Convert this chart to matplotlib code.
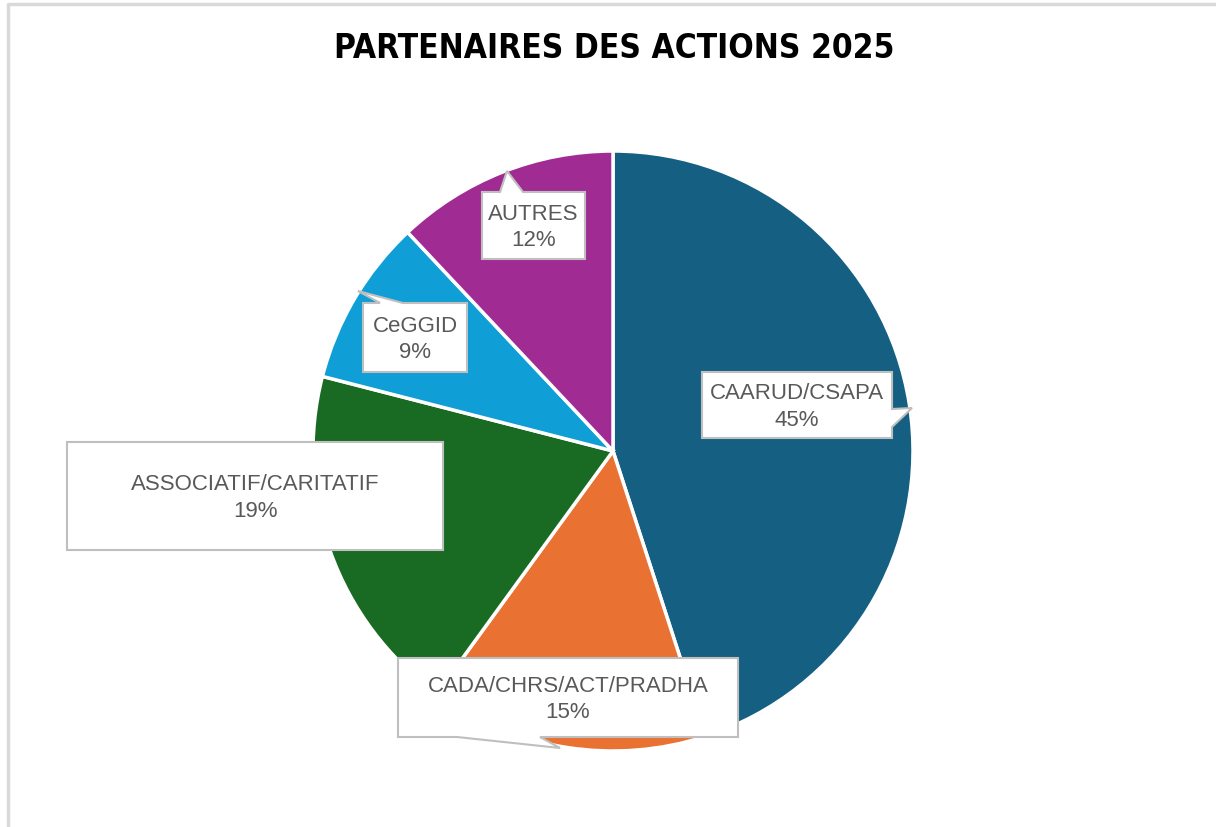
import matplotlib
matplotlib.use("Agg")
import matplotlib.pyplot as plt
from matplotlib import font_manager
from matplotlib.patches import Polygon

# data
labels = ["CAARUD/CSAPA", "CADA/CHRS/ACT/PRADHA", "ASSOCIATIF/CARITATIF", "CeGGID", "AUTRES"]
shares = [45, 15, 19, 9, 12]
colors = ["#156082", "#E97132", "#196B24", "#0F9ED5", "#A02B93"]
title = "PARTENAIRES DES ACTIONS 2025"

# callout layout in pixel coords: box (x0, y0, x1, y1), pointer edge, base span, tip
callouts = [
    ((702, 373, 892, 439), "right", (410, 428), (912, 409)),
    ((398, 659, 738, 738), "bottom", (540, 457), (560, 749)),
    ((67, 443, 443, 551), None, None, None),
    ((363, 304, 467, 373), "top", (380, 403), (358, 292)),
    ((482, 193, 585, 260), "top", (500, 523), (507, 172)),
]

# pick a condensed bold face for the title if one is installed
cond = [f for f in font_manager.fontManager.ttflist
        if ("Narrow" in f.name or "Condensed" in f.name or "condensed" in str(f.stretch))
        and f.weight in ("bold", 700)]
if cond:
    title_kw = dict(family=cond[0].name, fontstretch=cond[0].stretch, fontsize=24)
else:
    title_kw = dict(family="Liberation Sans", fontsize=23.5)
label_font = "Liberation Sans"

W, H = 1216, 828
fig = plt.figure(figsize=(W / 100, H / 100), dpi=100)
ax = fig.add_axes([0, 0, 1, 1])

# chart frame (top and left edges visible)
ax.plot([8, 8, W], [H, 5, 5], color="#D9D9D9", lw=2.5, solid_capstyle="butt")

# y axis is inverted below, so startangle/counterclock are mirrored
ax.pie(shares, colors=colors, center=(613, 452), radius=300, startangle=-90,
       counterclock=True, wedgeprops=dict(edgecolor="white", linewidth=2.5),
       frame=True)
ax.set_xlim(0, W)
ax.set_ylim(H, 0)
ax.set_aspect("equal")
ax.axis("off")


def callout_poly(box, edge, span, tip):
    x0, y0, x1, y1 = box
    pts = [(x0, y0)]
    if edge == "top":
        pts += [(span[0], y0), tip, (span[1], y0)]
    pts.append((x1, y0))
    if edge == "right":
        pts += [(x1, span[0]), tip, (x1, span[1])]
    pts.append((x1, y1))
    if edge == "bottom":
        pts += [(span[0], y1), tip, (span[1], y1)]
    pts.append((x0, y1))
    return pts


for lab, val, (box, edge, span, tip) in zip(labels, shares, callouts):
    poly = Polygon(callout_poly(box, edge, span, tip), closed=True,
                   facecolor="white", edgecolor="#BFBFBF", lw=1.5, zorder=5)
    ax.add_patch(poly)
    cx = (box[0] + box[2]) / 2
    cy = (box[1] + box[3]) / 2 + 1
    ax.text(cx, cy, f"{lab}\n{val}%", ha="center", va="center", fontsize=16,
            color="#595959", family=label_font, linespacing=1.36, zorder=6)

fig.text(614 / W, 1 - 49 / H, title, ha="center", va="center",
         fontweight="bold", color="black", **title_kw)

fig.savefig("out.png", dpi=100)
